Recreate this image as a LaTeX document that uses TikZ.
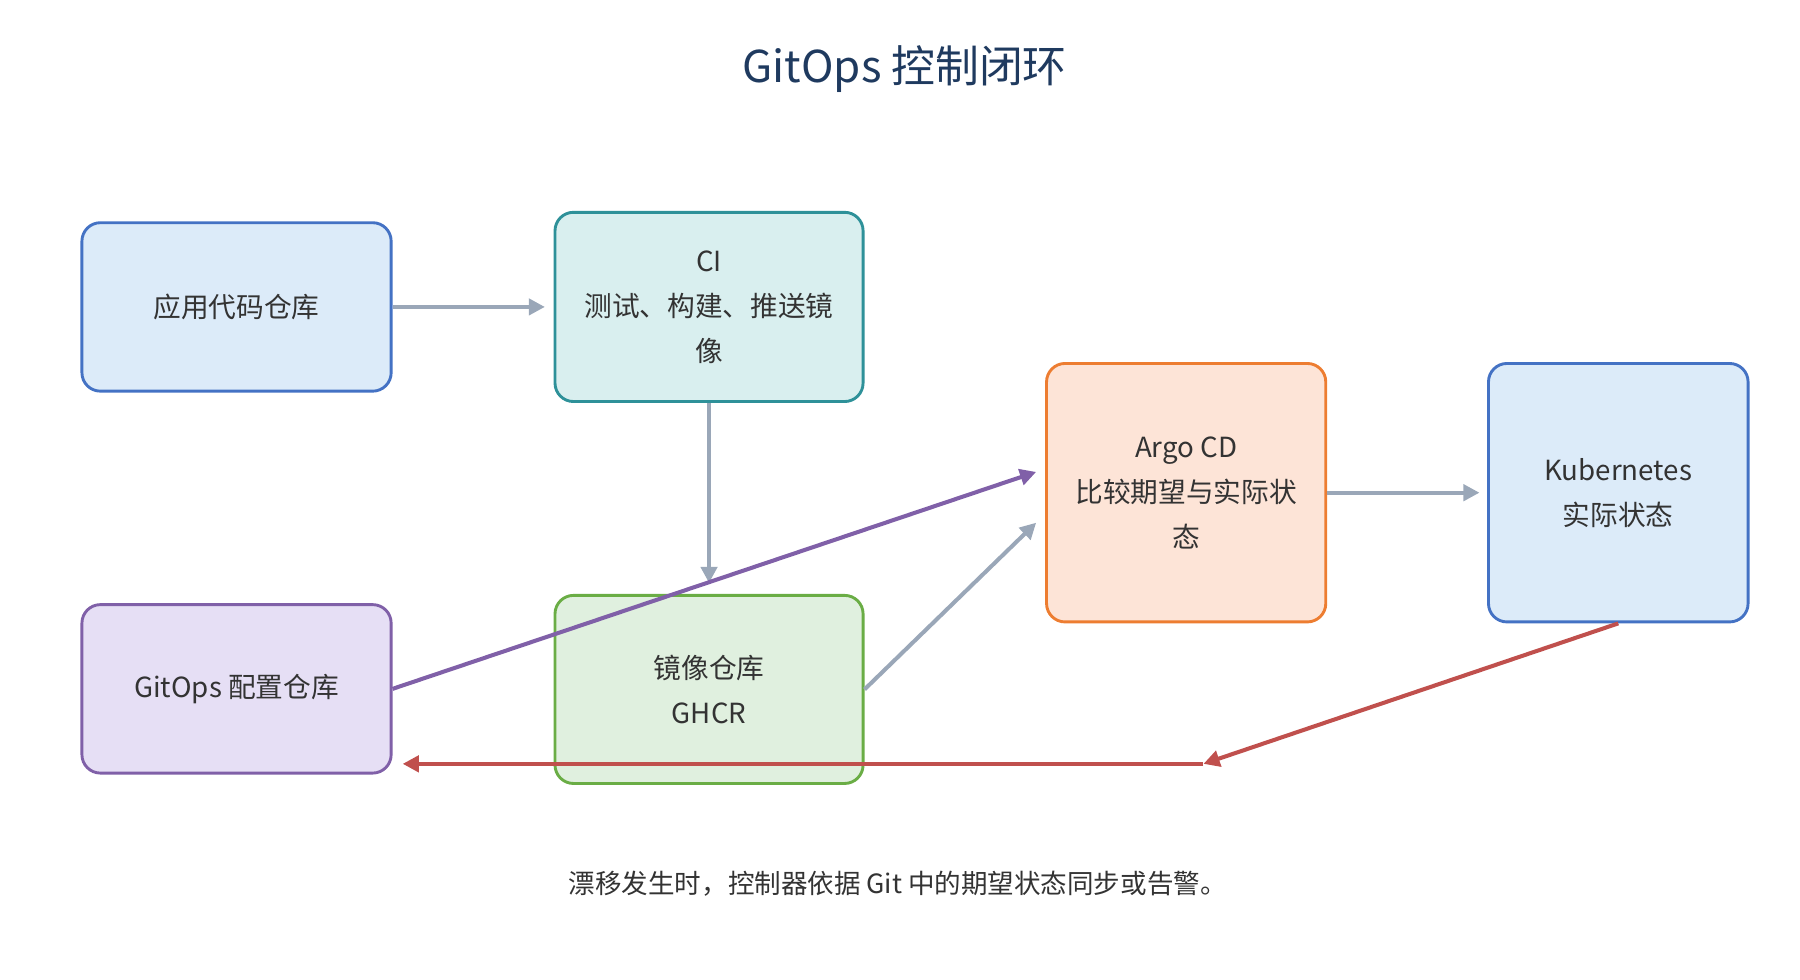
\documentclass[tikz,border=0pt]{standalone}
\usepackage{fontspec}
\setmainfont{Noto Sans CJK SC}
\usetikzlibrary{arrows.meta}
\definecolor{tc}{HTML}{1F3A5F}
\definecolor{gr}{HTML}{9AA7B8}
\definecolor{rd}{HTML}{C0504D}
\definecolor{pu}{HTML}{8060A8}
\tikzset{
 box/.style={draw, line width=2.5pt, rounded corners=16pt, align=center, font=\fontsize{24}{39}\selectfont, text=black!80, inner sep=0pt},
 ar/.style={line width=3.5pt, -{Triangle[length=14pt,width=14pt]}},
}
\begin{document}
\begin{tikzpicture}[x=1pt,y=-1pt]
\useasboundingbox (0,0) rectangle (1560,849);
\node[font=\fontsize{38}{40}\selectfont, text=tc] (t) at (784,60) {GitOps 控制闭环};
\node[box, fill=blue!12, draw=blue!55!cyan!70!black, minimum width=268pt, minimum height=146pt, draw={rgb,255:red,68;green,114;blue,196}, fill={rgb,255:red,220;green,235;blue,249}] (a) at (205,266) {应用代码仓库};
\node[box, minimum width=267pt, minimum height=164pt, draw={rgb,255:red,46;green,145;blue,153}, fill={rgb,255:red,217;green,239;blue,239}] (ci) at (614.5,266) {CI\\测试、构建、推送镜\\像};
\node[box, minimum width=267pt, minimum height=163pt, draw={rgb,255:red,106;green,173;blue,69}, fill={rgb,255:red,224;green,240;blue,223}] (g) at (614.5,597.5) {镜像仓库\\GHCR};
\node[box, minimum width=268pt, minimum height=146pt, draw=pu, fill={rgb,255:red,230;green,223;blue,245}] (c) at (205,597) {GitOps 配置仓库};
\node[box, minimum width=242pt, minimum height=224pt, draw={rgb,255:red,237;green,125;blue,49}, fill={rgb,255:red,253;green,228;blue,215}] (ar) at (1028,427) {Argo CD\\比较期望与实际状\\态};
\node[box, minimum width=225pt, minimum height=224pt, draw={rgb,255:red,68;green,114;blue,196}, fill={rgb,255:red,220;green,235;blue,249}] (k) at (1402.5,427) {Kubernetes\\实际状态};
\draw[ar, gr] (a.east) -- ++(132,0);
\draw[ar, gr] (ci.south) -- ++(0,156);
\draw[ar, pu] (c.east) -- (898,409);
\draw[ar, gr] (g.east) -- (898,453);
\draw[ar, gr] (ar.east) -- ++(132,0);
\coordinate (m) at (1043,662);
\coordinate (e) at (349,662);
\draw[ar, rd] (k.south) -- (m);
\draw[ar, rd] (m) -- (e);
\node[font=\fontsize{23}{26}\selectfont, text=black!80] (cap) at (778,766) {漂移发生时，控制器依据 Git 中的期望状态同步或告警。};
\end{tikzpicture}
\end{document}
